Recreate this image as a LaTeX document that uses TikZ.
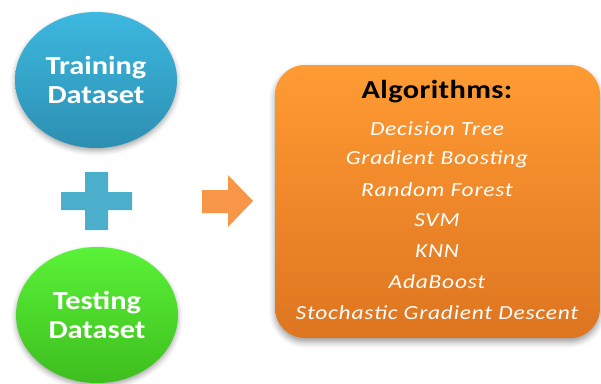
\documentclass[tikz,border=0pt]{standalone}
\usepackage{fontspec}
\setmainfont{Carlito}[FakeStretch=1.17]
\usetikzlibrary{shapes.geometric,shadows.blur}
\definecolor{blueT}{HTML}{3DB8DF}
\definecolor{blueB}{HTML}{2C8FB2}
\definecolor{greenT}{HTML}{5AF238}
\definecolor{greenB}{HTML}{3EBE1E}
\definecolor{plusC}{HTML}{4BAFCB}
\definecolor{arrowC}{HTML}{F79646}
\definecolor{boxT}{HTML}{FF9B33}
\definecolor{boxB}{HTML}{DE7520}
\tikzset{
  dataset/.style={ellipse, minimum width=162pt, minimum height=136pt, inner sep=0pt,
    blur shadow={shadow xshift=0pt, shadow yshift=-3pt, shadow blur radius=5pt, shadow opacity=35},
    text=white, font=\bfseries\fontsize{26}{29}\selectfont, align=center},
  algbox/.style={rectangle, rounded corners=30pt, minimum width=325pt, minimum height=273pt,
    top color=boxT, bottom color=boxB, draw=none,
    blur shadow={shadow xshift=0pt, shadow yshift=-4pt, shadow blur radius=6pt, shadow opacity=40}},
  algitem/.style={text=white, font=\itshape\fontsize{20}{24}\selectfont\addfontfeature{LetterSpace=4}, inner sep=0pt},
}
\begin{document}
\begin{tikzpicture}[x=1pt,y=-1pt]
\useasboundingbox (0,0) rectangle (601,383);
\node[dataset, top color=blueT, bottom color=blueB] (train) at (96,80) {Training\\Dataset};
\node[dataset, top color=greenT, bottom color=greenB] (test) at (97,315) {Testing\\Dataset};
% plus sign
\fill[plusC] (61,192) -- (85,192) -- (85,172) -- (108,172) -- (108,192) -- (132,192)
  -- (132,210) -- (108,210) -- (108,230) -- (85,230) -- (85,210) -- (61,210) -- cycle;
% arrow
\fill[arrowC] (202,190) -- (228,190) -- (228,175) -- (253,201) -- (228,227) -- (228,213)
  -- (202,213) -- cycle;
\node[algbox] (box) at (437.5,201.5) {};
\node[font=\bfseries\fontsize{26}{29}\selectfont\addfontfeature{LetterSpace=1.5}, inner sep=0pt] (title) at (437,92) {Algorithms:};
\node[algitem] (a1) at (437,129) {Decision Tree};
\node[algitem] (a2) at (437,159) {Gradient Boosting};
\node[algitem] (a3) at (437,190) {Random Forest};
\node[algitem] (a4) at (437,220) {SVM};
\node[algitem] (a5) at (437,251) {KNN};
\node[algitem] (a6) at (437,282) {AdaBoost};
\node[algitem] (a7) at (437,313) {Stochastic Gradient Descent};
\end{tikzpicture}
\end{document}
